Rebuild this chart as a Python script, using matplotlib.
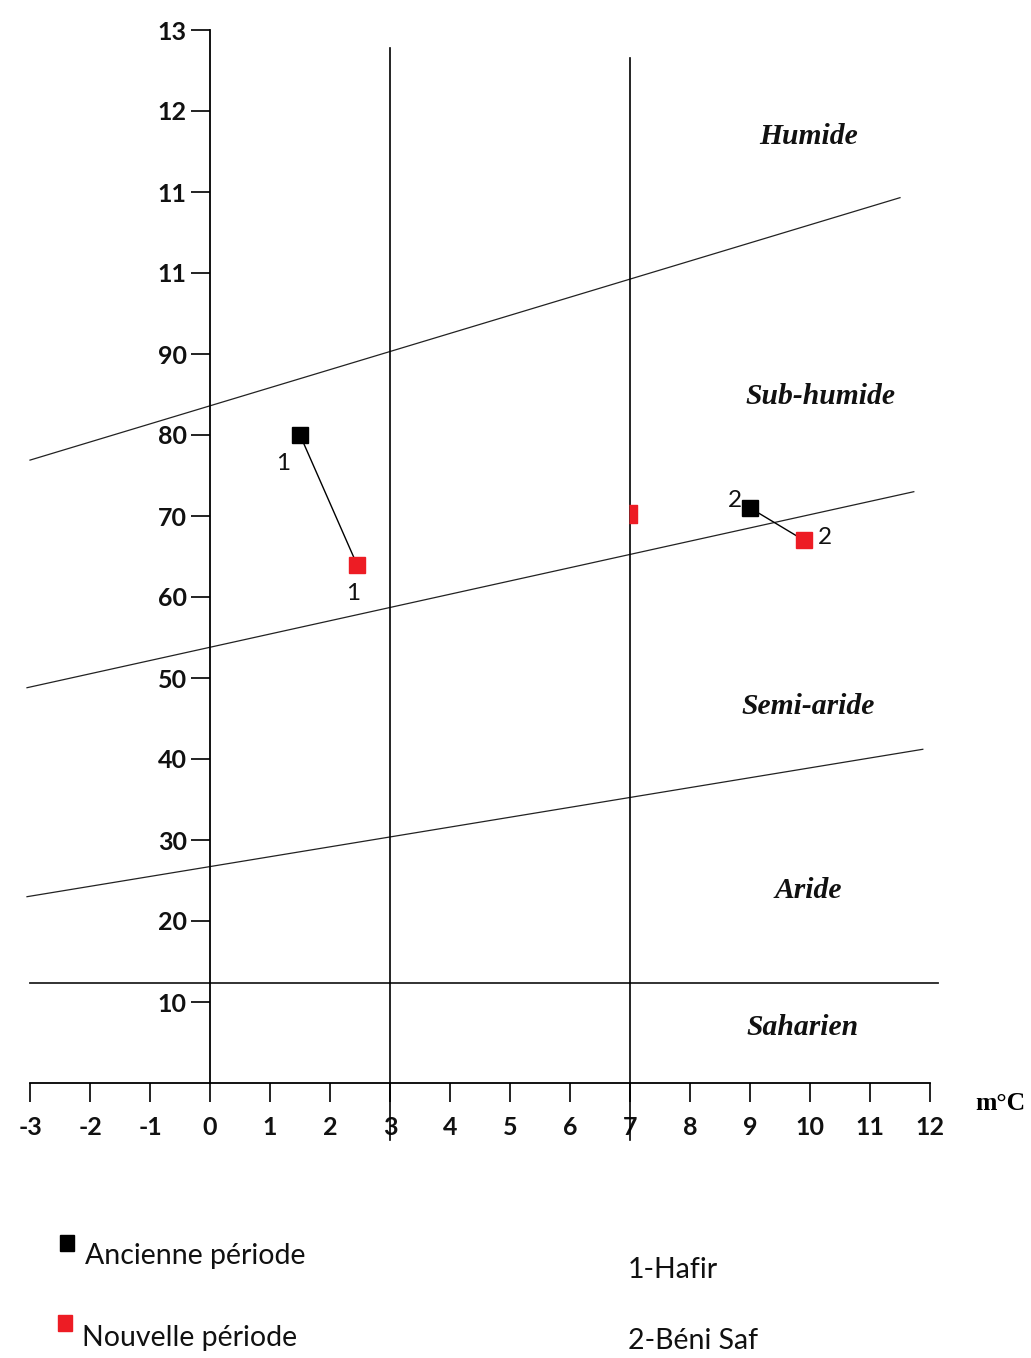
import matplotlib.pyplot as plt
from matplotlib.patches import Rectangle

# Emberger climagram: m (°C) against the pluviothermic quotient Q2
station_ids = ['1', '2']
m_old = [1.5, 9.0]      # ancienne période
q_old = [80, 71]
m_new = [2.45, 9.9]     # nouvelle période
q_new = [64, 67]
stray_m = [7.05]
stray_q = [70.3]

# bioclimatic boundary lines (end points)
humid_m, humid_q = [-3.0, 11.5], [76.9, 109.3]
subhumid_m, subhumid_q = [-3.05, 11.73], [48.8, 73.0]
semiarid_m, semiarid_q = [-3.05, 11.88], [23.0, 41.2]
arid_m, arid_q = [-3.0, 12.13], [12.35, 12.35]

zone_names = ['Humide', 'Sub-humide', 'Semi-aride', 'Aride', 'Saharien']
zone_m = [9.97, 10.17, 9.97, 9.97, 9.87]
zone_q = [116.8, 84.8, 46.5, 23.8, 6.8]

x_ticks = list(range(-3, 13))
y_ticks = [10, 20, 30, 40, 50, 60, 70, 80, 90, 100, 110, 120, 130]
y_tick_labels = ['10', '20', '30', '40', '50', '60', '70', '80', '90', '11', '11', '12', '13']

W, H = 1031, 1358
fig = plt.figure(figsize=(W / 100, H / 100), dpi=100)
ax = fig.add_axes([0, 0, 1, 1])
ax.set_xlim(-3.5, (W - 210) / 60)
ax.set_ylim((1083 - H) / 8.1, 1083 / 8.1)

# axes crossing at the origin
for s in ['top', 'right']:
    ax.spines[s].set_visible(False)
ax.spines['left'].set_position(('data', 0))
ax.spines['bottom'].set_position(('data', 0))
ax.spines['left'].set_bounds(0, 130)
ax.spines['bottom'].set_bounds(-3, 12)
ax.spines['left'].set_linewidth(1.3)
ax.spines['bottom'].set_linewidth(1.3)

tick_font = dict(family='Lato', weight='bold', size=18)
ax.set_xticks(x_ticks)
ax.set_xticklabels([str(t) for t in x_ticks], fontdict=tick_font)
ax.set_yticks(y_ticks)
ax.set_yticklabels(y_tick_labels, fontdict=tick_font)
ax.tick_params(axis='both', direction='out', length=13.7, width=1.3, colors='#111')
ax.tick_params(axis='x', pad=10)
ax.tick_params(axis='y', pad=3)

# boundary lines
for bm, bq in [(humid_m, humid_q), (subhumid_m, subhumid_q),
               (semiarid_m, semiarid_q), (arid_m, arid_q)]:
    lw = 1.3 if bq[0] == bq[1] else 0.9
    ax.plot(bm, bq, color='#222', lw=lw, zorder=2)

ax.plot([3, 3], [-7.0, 127.8], color='black', lw=1.2, zorder=3)
ax.plot([7, 7], [-7.0, 126.5], color='black', lw=1.2, zorder=3)

for name, zm, zq in zip(zone_names, zone_m, zone_q):
    ax.text(zm, zq, name, family='Liberation Serif', weight='bold', style='italic',
            size=21.3, ha='center', va='center', color='#111')

ax.text((1000 - 210) / 60, (1083 - 1103) / 8.1, 'm°C', family='Liberation Serif',
        weight='bold', size=18.5, ha='center', va='center')

# stations: change between the two periods
red = '#ed1c24'
for i in range(len(station_ids)):
    ax.plot([m_old[i], m_new[i]], [q_old[i], q_new[i]], color='black', lw=1.0, zorder=4)
ax.plot(m_old, q_old, 's', color='black', ms=11.5, zorder=5)
ax.plot(m_new, q_new, 's', color=red, ms=11.5, zorder=5)
ax.plot(stray_m, stray_q, marker=[(-0.22, -0.5), (0.22, -0.5), (0.22, 0.5), (-0.22, 0.5)],
        color=red, ms=13, ls='none', zorder=5)

old_offsets = [(-17, -28), (-15, 7)]
new_offsets = [(-4, -29), (21, 3)]
lab_font = dict(family='Lato', size=17.5, color='#111', ha='center', va='center')
for i, sid in enumerate(station_ids):
    ax.annotate(sid, (m_old[i], q_old[i]), xytext=old_offsets[i],
                textcoords='offset pixels', **lab_font)
    ax.annotate(sid, (m_new[i], q_new[i]), xytext=new_offsets[i],
                textcoords='offset pixels', **lab_font)

# legend and station names under the chart
def fx(px):
    return px / W

def fy(py):
    return 1 - py / H

fig.add_artist(Rectangle((fx(60), fy(1251)), 14 / W, 16 / H, color='black',
                         transform=fig.transFigure))
fig.add_artist(Rectangle((fx(58), fy(1331)), 14 / W, 16 / H, color=red,
                         transform=fig.transFigure))
leg_font = dict(family='Lato', size=20.5, color='#111', va='center', ha='left')
fig.text(fx(85), fy(1256), 'Ancienne période', **leg_font)
fig.text(fx(82), fy(1338), 'Nouvelle période', **leg_font)
fig.text(fx(628), fy(1270), '1-Hafir', **leg_font)
fig.text(fx(628), fy(1341), '2-Béni Saf', **leg_font)

fig.savefig('out.png', dpi=100)
